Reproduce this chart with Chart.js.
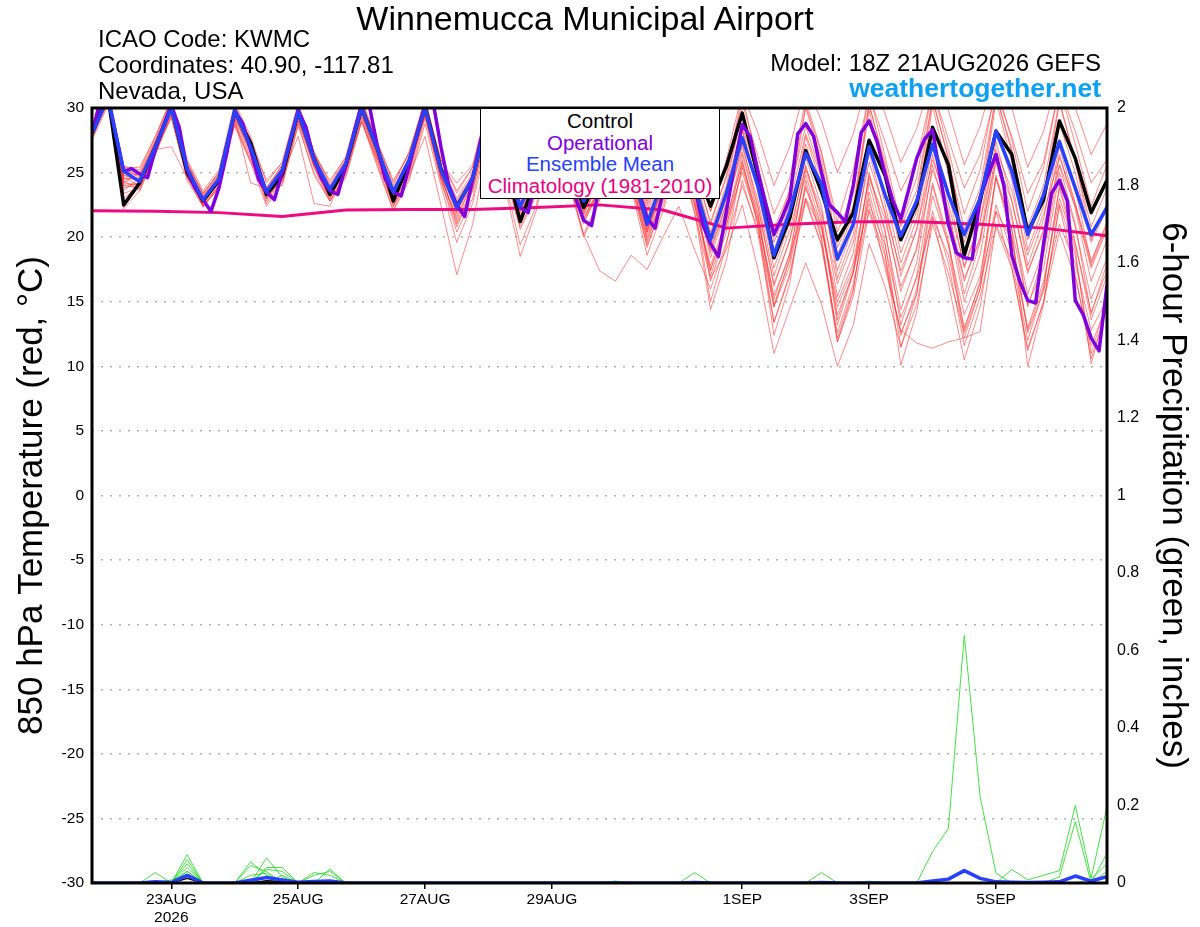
<!DOCTYPE html>
<html>
<head>
<meta charset="utf-8">
<script src="https://cdn.jsdelivr.net/npm/chart.js@4.4.1/dist/chart.umd.min.js"></script>
<style>
html,body{margin:0;padding:0;background:#fff;}
#wrap{position:relative;width:1200px;height:927px;overflow:hidden;font-family:"Liberation Sans",Arial,Helvetica,sans-serif;background:#fff;}
canvas{position:absolute;left:0;top:0;}
.t{position:absolute;white-space:nowrap;color:#000;line-height:1;}
#legend{position:absolute;left:480px;top:108px;width:240px;height:91px;box-sizing:border-box;border:1.5px solid #000;background:#fff;text-align:center;font-size:20.5px;line-height:21.7px;padding-top:1px;white-space:nowrap;}
</style>
</head>
<body>
<div id="wrap">
<canvas id="c" width="1200" height="927"></canvas>
<div class="t" style="left:0;width:1170px;text-align:center;top:1px;font-size:34px;">Winnemucca Municipal Airport</div>
<div class="t" style="left:98px;top:27px;font-size:24px;">ICAO Code: KWMC</div>
<div class="t" style="left:98px;top:53px;font-size:24px;">Coordinates: 40.90, -117.81</div>
<div class="t" style="left:98px;top:79px;font-size:24px;">Nevada, USA</div>
<div class="t" style="right:99px;top:51px;font-size:24px;">Model: 18Z 21AUG2026 GEFS</div>
<div class="t" style="right:99px;top:75px;font-size:26.5px;font-weight:bold;color:#0ea0f2;">weathertogether.net</div>
<div id="legend">
<div style="color:#000">Control</div>
<div style="color:#7f00dd">Operational</div>
<div style="color:#2840ff">Ensemble Mean</div>
<div style="color:#e8007e">Climatology (1981-2010)</div>
</div>
</div>
<script>
// ---------- DATA ----------
// forecast hours after 18Z 21AUG2026 (6-hourly grid for ensemble, 3-hourly for operational, daily for climatology)
const hours6 = Array.from({length: 65}, (_, k) => k * 6);
const hours3 = Array.from({length: 129}, (_, k) => k * 3);
const climHours = Array.from({length: 17}, (_, k) => k * 24);

const tickHours = [30, 78, 126, 174, 246, 294, 342];
const tickLabels = [['23AUG', '2026'], '25AUG', '27AUG', '29AUG', '1SEP', '3SEP', '5SEP'];

const controlTemp = [28.0,31.0,22.5,24.2,27.0,30.1,25.0,22.8, 24.4,29.7,27.3,23.3,24.8,29.7,26.1,23.3,
  25.5,30.0,26.8,22.8,25.8,30.1,25.3,22.4, 24.5,29.8,26.0,21.2,24.5,29.6,26.0,22.3,
  24.8,29.5,26.5,23.2,25.5,29.0,25.5,22.4, 25.5,29.6,24.7,18.4,21.5,26.7,23.5,19.8,
  21.9,27.5,24.8,19.8,22.5,28.5,25.6,18.6, 22.8,28.2,26.4,20.4,22.9,29.0,26.1,21.9, 24.4];

const meanTemp = [28.0,30.8,25.1,24.3,27.0,30.0,25.3,22.9, 24.5,29.8,27.0,23.5,25.2,29.7,26.0,23.7,
  25.7,30.0,26.8,23.5,26.0,30.0,25.2,22.3, 24.6,29.5,26.0,22.4,24.8,29.2,26.0,22.8,
  24.8,28.8,25.5,21.0,24.5,28.0,24.0,19.8, 23.4,27.7,23.9,18.6,22.0,26.5,24.1,18.3,
  21.0,27.0,23.3,20.1,22.8,27.2,23.3,20.2, 23.0,28.2,25.1,20.2,23.3,27.4,23.8,20.2, 22.3];

const operTemp = [28.0,30.5,31.0,28.0,25.1,25.3,24.9,24.6, 26.8,28.6,30.2,28.5,25.2,23.8,22.9,22.0,
  23.8,26.5,29.8,28.8,26.8,24.5,23.5,22.9, 25.0,27.5,29.8,28.5,26.0,24.5,23.6,23.3,
  25.5,28.0,30.3,30.1,27.0,24.5,23.5,23.2, 25.5,28.0,30.2,30.5,27.0,24.0,22.5,21.6,
  24.5,27.5,29.5,29.0,26.5,24.0,22.3,21.9, 24.5,27.5,29.5,28.5,25.5,23.0,21.3,20.9,
  24.0,27.0,29.3,29.0,26.0,23.5,21.5,20.7, 23.5,26.5,28.5,27.0,24.0,21.0,19.5,18.5,
  22.0,25.5,28.7,27.8,25.0,22.5,20.2,21.5, 23.0,28.0,28.8,27.8,25.0,22.5,21.9,21.2,
  24.0,28.1,29.0,27.4,24.9,22.8,21.4,23.7, 26.1,27.6,28.3,24.6,21.0,18.8,18.4,18.3,
  23.1,24.8,26.4,24.0,18.6,16.6,15.1,14.9, 19.5,23.4,24.4,22.8,15.1,14.0,12.2,11.2, 16.3];

const climTemp = [22.05,22.0,21.9,21.6,22.1,22.15,22.15,22.3,22.5,22.1,20.7,21.0,21.2,21.2,21.0,20.7,20.1];

const mem01 = [28.5,31.5,23.0,24.0,27.2,30.5,25.5,22.6, 24.3,30.2,27.4,23.2,25.0,30.3,26.4,23.4, 25.9,30.6,27.0,23.2,26.2,30.8,25.6,22.0, 24.9,30.4,26.8,22.3,25.5,30.6,26.8,22.6, 25.6,30.5,26.6,22.0,25.8,30.8,25.6,21.0, 24.8,31.0,25.5,20.0,23.6,30.2,26.5,20.4, 23.4,31.2,26.3,21.0,24.6,31.5,26.8,21.8, 25.2,31.8,27.5,22.0,25.4,31.6,27.2,22.4, 25.6];
const mem02 = [27.6,30.6,24.5,24.6,27.4,29.8,25.0,23.0, 24.8,29.5,26.6,23.8,25.4,29.2,25.6,23.9, 25.6,29.6,26.4,23.6,25.8,29.6,25.0,22.6, 24.4,29.0,25.4,22.0,24.2,28.4,25.2,21.6, 23.6,27.6,24.2,20.0,23.0,26.5,22.4,17.5, 21.0,25.0,21.2,15.5,18.6,23.0,20.6,14.6, 17.6,22.6,19.4,13.8,16.8,21.5,18.6,13.0, 16.4,22.0,19.8,12.6,15.8,21.0,18.0,12.8, 15.2];
const mem03 = [28.2,31.0,24.0,23.8,26.6,29.6,25.2,22.4, 24.0,29.0,26.2,22.8,24.6,29.0,25.4,22.8, 25.0,29.2,25.6,22.1,24.8,27.8,22.5,17.1, 21.0,27.5,24.2,18.5,22.0,27.6,24.6,20.2, 23.0,28.0,24.8,20.6,23.8,27.6,23.4,18.8, 22.6,27.0,22.8,17.0,20.6,25.4,22.0,16.4, 19.6,25.8,22.0,17.4,20.6,26.0,22.6,17.8, 21.2,26.8,23.6,18.6,21.8,26.2,22.6,18.2, 21.0];
const mem04 = [27.8,30.4,24.8,24.4,26.8,27.0,24.6,23.2, 24.6,28.6,25.8,23.4,24.8,27.8,22.6,22.4, 25.2,28.9,26.0,23.8,25.6,29.4,25.0,22.8, 24.8,29.0,25.6,22.6,24.6,28.0,24.8,20.2, 17.4,16.6,18.6,17.5,20.0,22.4,19.0,16.0, 19.6,24.0,20.6,14.6,17.8,23.8,20.8,15.0, 18.0,24.6,21.4,16.2,19.0,25.2,22.0,16.8, 19.8,26.0,22.8,17.4,20.4,25.6,22.4,17.6, 20.6];
const mem05 = [28.0,30.9,25.2,24.8,27.4,30.4,25.8,23.4, 25.0,30.0,27.2,23.6,25.4,30.0,26.2,23.8, 25.8,30.2,26.6,23.2,25.6,29.4,24.4,20.8, 23.6,28.8,25.2,21.2,23.8,28.4,24.8,21.4, 23.6,27.8,24.0,19.4,22.4,26.4,21.8,16.8, 19.0,22.5,17.5,11.0,14.5,18.0,14.8,10.0, 13.2,19.5,16.2,11.5,14.8,21.0,17.2,12.6, 16.0,22.5,18.8,13.0,16.6,23.0,19.4,14.2, 17.4];
const mem06 = [28.3,31.2,23.8,24.2,27.0,30.2,25.4,22.8, 24.2,29.6,26.8,23.0,24.8,29.4,25.8,23.2, 25.2,29.8,26.6,23.0,25.6,29.8,24.8,21.2, 23.8,29.0,25.6,21.6,24.0,28.6,25.4,21.8, 24.2,28.2,24.8,20.2,23.4,27.2,22.6,17.8, 21.4,25.8,21.4,14.8,18.2,24.0,19.8,12.2, 16.0,23.5,18.8,10.1,14.2,21.6,16.4,10.5, 14.6,22.0,17.6,11.2,15.0,22.4,17.2,10.6, 14.4];
const mem07 = [28.6,31.4,24.2,25.0,27.6,30.6,25.6,23.0, 24.6,30.0,27.0,23.4,25.2,29.9,26.0,23.6, 25.6,30.2,26.8,23.4,25.8,30.2,25.4,22.0, 24.6,29.6,26.2,22.2,24.8,29.0,26.0,22.2, 24.6,28.6,25.4,20.6,24.0,28.0,23.6,19.0, 22.6,26.6,22.2,16.4,19.8,24.8,20.8,14.0, 17.2,23.0,17.6,12.8,11.8,11.4,11.9,12.2, 12.7,21.0,18.2,12.0,16.0,24.0,19.6,13.6, 17.0];
const mem08 = [27.9,30.7,25.4,24.6,27.2,30.1,25.4,23.2, 24.8,30.1,27.6,23.8,25.6,30.0,26.6,24.0, 26.0,30.4,27.2,24.0,26.6,30.4,26.0,23.4, 25.4,30.2,27.0,23.2,25.6,30.0,27.0,23.6, 25.8,30.0,26.8,22.6,26.0,30.2,26.4,22.0, 26.0,31.2,28.0,24.0,27.0,31.8,29.0,25.0, 28.0,32.5,29.6,25.8,28.4,32.6,29.8,25.6, 28.6,33.0,30.0,25.4,28.2,32.8,30.0,26.4, 28.8];
const mem09 = [28.1,30.8,24.6,24.0,26.8,29.8,24.8,22.6, 24.2,29.4,26.4,22.6,24.4,29.4,25.4,23.0, 25.2,29.4,26.2,22.6,25.0,29.6,24.6,21.4, 24.2,29.2,25.8,21.8,24.4,29.0,25.8,22.0, 24.4,28.6,25.0,20.4,24.0,28.4,24.0,19.2, 23.0,28.4,23.4,17.6,21.2,27.8,24.0,16.8, 20.2,27.6,22.6,17.0,20.6,27.0,22.0,15.6, 19.6,26.4,21.8,14.6,18.6,25.6,21.0,14.0, 18.0];
const mem10 = [27.7,30.5,24.4,23.6,26.4,29.4,24.6,22.4, 23.8,29.2,24.2,23.8,24.0,28.8,24.8,22.8, 24.8,29.0,25.8,22.4,24.6,29.2,24.4,20.4, 23.0,28.6,25.0,20.6,23.2,28.0,25.0,21.2, 23.6,28.2,24.6,19.8,23.0,27.6,23.2,16.6, 20.4,25.4,21.0,13.4,17.0,22.8,19.4,11.9, 15.4,22.0,18.0,12.6,15.6,23.2,19.4,14.0, 17.0,24.6,20.6,14.8,17.6,25.0,20.8,15.2, 18.4];
const mem11 = [28.4,31.1,25.5,25.2,27.8,30.8,26.0,23.6, 25.2,30.4,27.8,24.2,25.8,30.4,26.6,24.2, 26.2,30.6,27.4,24.2,26.6,30.6,26.0,23.6, 25.4,30.0,26.6,23.4,25.6,29.8,26.6,23.4, 25.4,29.6,26.4,22.4,25.4,29.6,25.2,21.2, 24.6,29.4,25.2,20.6,23.6,28.6,24.8,19.6, 22.4,30.4,25.4,20.8,23.6,30.8,26.0,20.6, 23.8,31.0,26.6,20.8,24.0,30.6,25.8,20.8, 23.8];
const mem12 = [28.0,30.6,23.4,23.8,26.6,29.6,25.0,22.5, 24.0,29.2,26.8,23.0,24.6,29.4,25.6,23.2, 25.4,29.8,26.4,22.8,25.4,29.8,25.0,21.8, 24.4,29.4,25.8,21.6,24.2,28.8,25.4,21.4, 24.0,28.4,25.0,20.4,23.6,27.8,23.8,18.4, 22.2,27.2,22.4,16.2,19.8,26.2,22.4,15.4, 18.8,26.6,21.8,15.8,19.2,26.4,21.6,16.6, 20.0,27.4,22.8,17.2,20.6,27.0,22.6,17.8, 20.8];
const mem13 = [28.2,31.3,24.8,24.4,27.2,30.3,25.6,23.0, 24.6,29.8,27.0,23.6,25.2,29.8,26.2,23.8, 25.8,30.0,26.8,23.6,26.0,30.2,25.4,22.6, 24.8,29.8,26.4,22.8,25.2,29.6,26.4,23.0, 25.2,29.4,26.0,21.8,25.0,29.2,24.8,20.4, 24.0,29.8,25.4,19.6,22.8,30.0,26.0,19.2, 22.0,30.2,25.8,19.8,23.0,30.6,26.2,19.6, 22.8,31.0,26.8,19.8,23.0,30.4,26.0,19.8, 22.6];
const mem14 = [27.5,30.2,24.0,24.2,26.8,29.2,24.6,22.8, 24.4,28.8,26.0,23.2,24.8,29.2,25.8,23.4, 25.4,29.6,26.2,23.0,25.4,29.4,24.8,21.0, 23.6,28.8,25.2,20.8,23.4,28.2,25.2,21.0, 23.8,28.0,24.4,19.2,22.8,27.0,22.8,17.4, 21.2,26.4,21.8,15.2,18.8,25.2,21.6,13.6, 17.4,25.0,20.6,13.2,17.0,24.2,19.8,12.8, 16.6,24.8,20.6,10.0,14.8,22.6,18.6,11.0, 15.0];
const mem15 = [28.1,30.9,25.0,24.8,27.4,30.2,25.8,23.3, 24.9,30.0,27.2,23.8,25.6,30.1,26.4,23.9, 26.0,30.2,27.0,23.8,26.2,30.2,25.6,23.0, 25.0,29.6,26.4,22.6,25.0,29.4,26.2,22.4, 24.8,29.0,25.8,21.4,24.8,28.8,24.6,20.2, 23.8,28.6,24.6,19.0,22.6,28.0,24.6,18.6, 21.8,29.8,24.6,18.8,22.0,30.2,24.8,18.4, 22.0,30.6,25.8,19.0,22.4,28.8,25.0,19.6, 22.2];
const mem16 = [28.3,31.0,22.2,23.6,26.4,29.8,25.2,22.3, 24.0,29.2,26.6,23.0,24.4,29.0,25.6,23.0, 25.2,29.4,26.0,22.4,25.0,29.6,24.6,21.6, 24.2,29.0,25.4,21.4,24.0,28.8,25.4,21.8, 24.2,28.6,25.2,20.8,23.8,28.0,23.4,17.0, 20.8,26.0,20.8,12.4,16.4,24.4,20.0,11.9, 15.8,24.2,19.6,11.5,15.6,24.0,19.4,12.2, 16.0,24.6,20.0,12.8,16.2,23.8,19.0,10.2, 14.6];
const mem17 = [27.9,30.6,25.4,25.4,27.8,30.6,25.6,23.4, 25.0,30.2,27.4,24.4,25.8,30.2,26.4,24.4, 26.2,30.6,27.2,24.4,26.4,30.6,25.8,24.2, 25.6,30.4,26.8,23.4,25.8,30.2,26.8,23.2, 25.6,30.2,26.8,22.8,25.8,30.4,26.0,22.0, 25.4,30.4,26.2,21.8,24.6,30.6,26.6,21.2, 25.2,31.0,27.4,23.6,26.0,31.4,27.6,23.8, 26.4,31.2,27.8,23.4,25.8,31.6,28.2,24.2, 26.0];
const mem18 = [28.5,31.2,23.6,24.6,27.2,30.0,25.2,23.0, 24.4,29.6,26.8,23.4,25.0,29.6,25.8,23.4, 25.4,29.8,26.6,23.2,25.8,29.8,24.8,22.2, 24.4,29.2,25.6,22.0,24.4,29.0,25.6,22.0, 24.2,28.4,24.6,19.6,23.2,27.2,22.6,15.0, 19.4,25.6,21.6,14.6,18.4,25.6,21.2,13.2, 17.2,24.8,20.4,14.4,18.0,25.6,21.2,15.0, 18.6,25.8,21.4,15.6,19.0,26.4,22.2,16.6, 19.8];
const mem19 = [27.8,30.4,24.2,24.0,26.6,29.4,24.4,22.4, 23.8,28.8,25.8,22.4,24.2,28.6,25.0,22.8, 24.6,29.0,25.4,22.0,24.4,28.8,24.0,19.6, 22.6,28.0,24.6,19.4,22.4,27.6,24.4,20.0, 22.8,27.4,23.8,18.6,22.0,26.6,22.0,14.4, 18.2,24.4,20.2,13.4,17.2,23.0,19.4,12.6, 16.4,22.2,18.6,12.4,16.0,22.0,18.0,11.6, 15.4,20.8,17.6,11.4,15.0,20.4,16.8,11.6, 14.8];
const mem20 = [28.0,30.8,24.6,24.4,27.0,30.0,25.0,22.7, 24.2,29.6,26.8,23.2,25.0,29.6,25.8,23.6, 25.6,30.0,26.6,23.4,25.8,30.0,25.0,22.0, 24.6,29.6,26.0,22.2,24.6,29.4,26.0,22.4, 24.6,29.0,25.6,21.2,24.4,28.6,24.0,20.0, 23.6,28.2,24.0,18.4,21.8,27.2,23.6,17.4, 20.8,27.4,23.4,18.0,21.4,27.8,23.6,17.6, 21.2,28.4,24.4,17.8,21.4,27.6,23.8,18.0, 21.2];
const memberTemps = [mem01,mem02,mem03,mem04,mem05,mem06,mem07,mem08,mem09,mem10,mem11,mem12,mem13,mem14,mem15,mem16,mem17,mem18,mem19,mem20];

// 6-hour precipitation (inches)
const prc1 = [0,0,0,0,.027,0,.03,0, 0,0,.055,.02,0,0,.027,.02, 0,0,0,0,0,0,0,0, 0,0,0,0,0,0,0,0, 0,0,0,0,0,0,0,0, 0,0,0,0,0,0,0,0, 0,0,0,0,0,0,0,0, 0,0,0,0,0,0,0,0, 0];
const prc2 = [0,0,0,0,0,0,.073,0, 0,0,0,.065,.015,0,0,0, 0,0,0,0,0,0,0,0, 0,0,0,0,0,0,0,0, 0,0,0,0,0,0,0,0, 0,0,0,0,0,0,0,0, 0,0,0,0,0,0,0,0, 0,0,0,0,0,0,0,0, 0];
const prc3 = [0,0,0,0,0,0,.06,0, 0,0,0,.04,.04,0,0,.036, 0,0,0,0,0,0,0,0, 0,0,0,0,0,0,0,0, 0,0,0,0,0,0,0,0, 0,0,0,0,0,0,0,0, 0,0,0,0,0,.081,.141,.639, .223,.025,0,0,0,0,0,0, 0];
const prc4 = [0,0,0,0,0,0,.05,0, 0,0,.045,.03,0,0,0,0, 0,0,0,0,0,0,0,0, 0,0,0,0,0,0,0,0, 0,0,0,0,0,0,.027,0, 0,0,0,0,0,0,0,0, 0,0,0,0,0,0,0,0, 0,0,0,0,0,0,0,0, 0];
const prc5 = [0,0,0,0,0,0,.04,0, 0,0,0,.035,.03,0,0,0, 0,0,0,0,0,0,0,0, 0,0,0,0,0,0,0,0, 0,0,0,0,0,0,0,0, 0,0,0,0,0,0,.027,0, 0,0,0,0,0,0,0,0, 0,0,.035,.008,.02,.032,.2,.013, .197];
const prc6 = [0,0,0,0,0,0,.03,0, 0,0,0,0,.02,0,.02,.03, 0,0,0,0,0,0,0,0, 0,0,0,0,0,0,0,0, 0,0,0,0,0,0,0,0, 0,0,0,0,0,0,0,0, 0,0,0,0,0,0,0,0, 0,0,0,0,0,.016,.158,0, .077];
const prc7 = [0,0,0,0,0,.008,.02,0, 0,0,.02,.025,0,0,0,0, 0,0,0,0,0,0,0,0, 0,0,0,0,0,0,0,0, 0,.005,0,0,0,0,0,0, 0,0,0,0,0,0,0,0, 0,0,0,0,0,0,0,0, 0,0,0,0,0,0,0,.01, .05];
const prc8 = [0,0,0,0,0,0,.015,0, 0,0,0,.015,.01,0,0,0, 0,0,0,0,0,0,0,0, 0,0,0,0,0,0,0,0, 0,0,0,0,0,0,0,0, 0,0,0,0,0,0,0,0, 0,.005,0,0,0,0,0,0, 0,0,0,0,0,0,0,0, .03];
const memberPrecips = [prc1,prc2,prc3,prc4,prc5,prc6,prc7,prc8];
const meanPrecip = [0,0,0,0,.003,.001,.02,0, 0,0,.007,.014,.008,.002,.004,.005, 0,0,0,0,0,0,0,0, 0,0,0,0,0,0,0,0, 0,0,0,0,0,0,.001,0, 0,0,0,0,0,0,.001,0, 0,0,0,0,0,.005,.01,.032, .012,.003,.002,.001,.002,.003,.018,.005, .016];
const controlPrecip = [0,0,0,0,0,0,.012,0, 0,0,0,.006,.004,0,0,0, 0,0,0,0,0,0,0,0, 0,0,0,0,0,0,0,0, 0,0,0,0,0,0,0,0, 0,0,0,0,0,0,0,0, 0,0,0,0,0,0,0,0, 0,0,0,0,0,0,0,0, 0];

// ---------- CHART ----------
const pts = (xs, ys) => ys.map((v, k) => ({x: xs[k], y: v}));
const datasets = [];
datasets.push({data: pts(hours6, meanTemp), borderColor: '#2840ff', borderWidth: 3.5, yAxisID: 'y', order: 0});
datasets.push({data: pts(hours3, operTemp), borderColor: '#7f00dd', borderWidth: 3.5, yAxisID: 'y', order: 1});
datasets.push({data: pts(hours6, controlTemp), borderColor: '#000000', borderWidth: 3.5, yAxisID: 'y', order: 2});
datasets.push({data: pts(climHours, climTemp), borderColor: '#ee0a80', borderWidth: 3, yAxisID: 'y', order: 3});
datasets.push({data: pts(hours6, meanPrecip), borderColor: '#2840ff', borderWidth: 3.5, yAxisID: 'y1', order: 4});
datasets.push({data: pts(hours6, controlPrecip), borderColor: '#000000', borderWidth: 1.5, yAxisID: 'y1', order: 5});
memberPrecips.forEach(p => datasets.push({data: pts(hours6, p), borderColor: 'rgba(40,215,40,0.85)', borderWidth: 1, yAxisID: 'y1', order: 6}));
memberTemps.forEach(m => datasets.push({data: pts(hours6, m), borderColor: 'rgba(255,45,45,0.55)', borderWidth: 1, yAxisID: 'y', order: 7}));

const framePlugin = {
  id: 'frame',
  afterDatasetsDraw(chart) {
    const {ctx, chartArea: {left, top, right, bottom}} = chart;
    ctx.save();
    ctx.strokeStyle = '#000';
    ctx.lineWidth = 3;
    ctx.strokeRect(left, top, right - left, bottom - top);
    ctx.restore();
  }
};

Chart.defaults.font.family = "'Liberation Sans', Arial, Helvetica, sans-serif";
Chart.defaults.color = '#000';

new Chart(document.getElementById('c'), {
  type: 'line',
  data: {datasets},
  options: {
    responsive: false,
    animation: false,
    devicePixelRatio: 1,
    layout: {padding: {top: 108, left: 0, right: 0, bottom: 0}},
    plugins: {legend: {display: false}, tooltip: {enabled: false}},
    elements: {point: {radius: 0}, line: {tension: 0, borderJoinStyle: 'round'}},
    scales: {
      x: {
        type: 'linear', min: 0, max: 384,
        afterBuildTicks: s => { s.ticks = tickHours.map(v => ({value: v})); },
        afterFit: s => { s.height = 44; },
        ticks: {autoSkip: false, maxRotation: 0, minRotation: 0, padding: 1, font: {size: 15.5}, color: '#000',
          callback: v => { const k = tickHours.indexOf(v); return k >= 0 ? tickLabels[k] : ''; }},
        grid: {drawOnChartArea: false, drawTicks: true, tickLength: 6, color: '#000', lineWidth: 1.5},
        border: {display: false}
      },
      y: {
        position: 'left', min: -30, max: 30,
        afterFit: s => { s.width = 92; },
        ticks: {stepSize: 5, padding: 8, font: {size: 15.5}, color: '#000', callback: v => String(v)},
        grid: {color: '#b0b0b0', lineWidth: 1.5, drawTicks: false},
        border: {display: false, dash: [2, 7]},
        title: {display: true, text: '850 hPa Temperature (red, °C)', font: {size: 35}, color: '#000', padding: {top: 11, bottom: 0}}
      },
      y1: {
        position: 'right', min: 0, max: 2,
        afterFit: s => { s.width = 93; },
        ticks: {stepSize: 0.2, padding: 10, font: {size: 16}, color: '#000', callback: v => String(Math.round(v * 10) / 10)},
        grid: {display: false, drawTicks: false},
        border: {display: false},
        title: {display: true, text: '6-hour Precipitation (green, inches)', font: {size: 35}, color: '#000', padding: {top: 6, bottom: 0}}
      }
    }
  },
  plugins: [framePlugin]
});
</script>
</body>
</html>
